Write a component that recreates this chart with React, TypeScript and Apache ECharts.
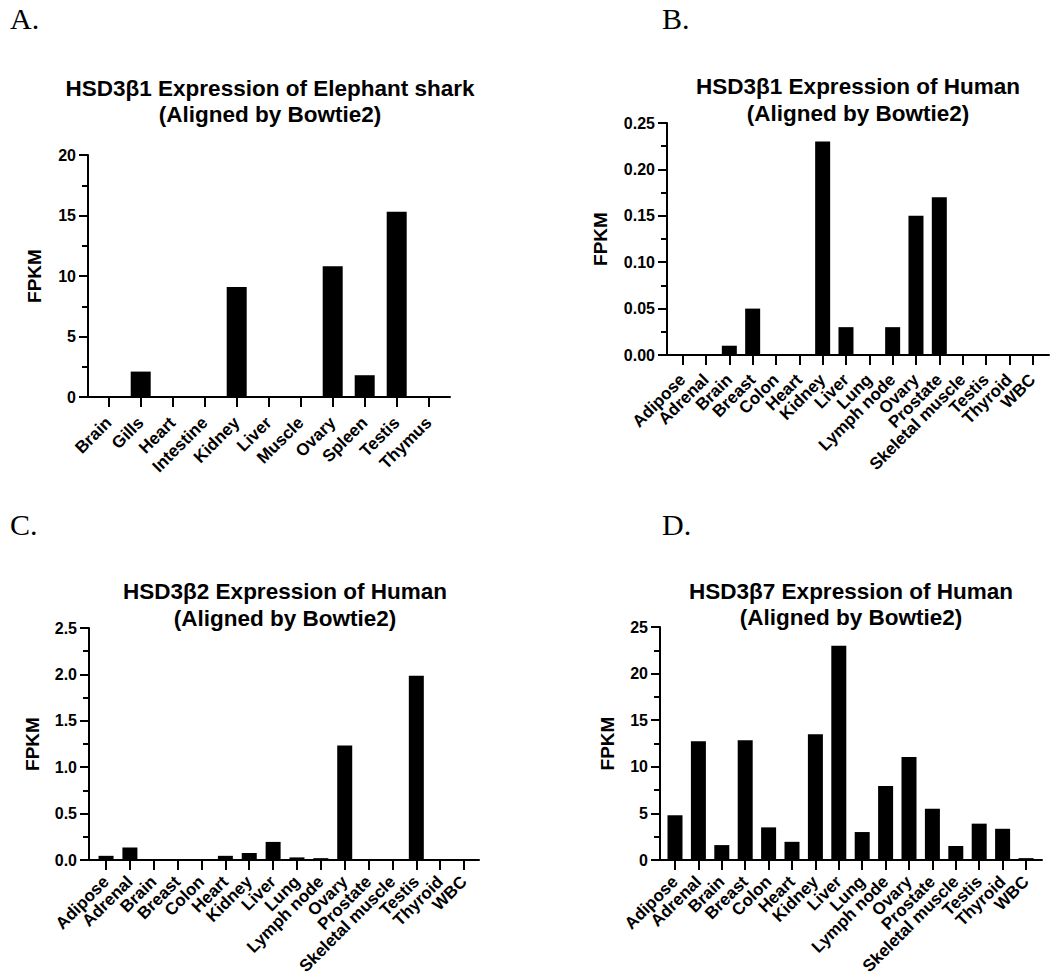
import React, { useEffect, useRef } from "react";
import * as echarts from "echarts";

const FONT = '"Liberation Sans", Arial, Helvetica, sans-serif';
const SERIF = '"Liberation Serif", "Times New Roman", serif';

// ---- data ----
const sharkTissues = ["Brain", "Gills", "Heart", "Intestine", "Kidney", "Liver", "Muscle", "Ovary", "Spleen", "Testis", "Thymus"];
const sharkHSD3B1 = [0, 2.1, 0, 0, 9.1, 0, 0, 10.8, 1.8, 15.3, 0];

const humanTissues = ["Adipose", "Adrenal", "Brain", "Breast", "Colon", "Heart", "Kidney", "Liver", "Lung", "Lymph node", "Ovary", "Prostate", "Skeletal muscle", "Testis", "Thyroid", "WBC"];
const humanHSD3B1 = [0, 0, 0.01, 0.05, 0, 0, 0.23, 0.03, 0, 0.03, 0.15, 0.17, 0, 0, 0, 0];
const humanHSD3B2 = [0.045, 0.135, 0, 0, 0, 0.045, 0.075, 0.195, 0.028, 0.02, 1.235, 0, 0, 1.985, 0, 0];
const humanHSD3B7 = [4.8, 12.75, 1.6, 12.85, 3.5, 1.95, 13.5, 23.0, 3.0, 7.95, 11.05, 5.5, 1.5, 3.9, 3.35, 0.2];

const titleA = "HSD3β1 Expression of Elephant shark\n(Aligned by Bowtie2)";
const titleB = "HSD3β1 Expression of Human\n(Aligned by Bowtie2)";
const titleC = "HSD3β2 Expression of Human\n(Aligned by Bowtie2)";
const titleD = "HSD3β7 Expression of Human\n(Aligned by Bowtie2)";
const yAxisName = "FPKM";

// ---- layout ----
const panels = [
  { cats: sharkTissues, vals: sharkHSD3B1, title: titleA, letter: "A.", lx: 10, ly: 18, tx: 270, ty: 101.5,
    fl: 88, ft: 155, fr: 450, fb: 397, dl: 92.7, dw: 352, bw: 20, yMax: 20, yInt: 5, dec: 0, gap: 44, lm: 23 },
  { cats: humanTissues, vals: humanHSD3B1, title: titleB, letter: "B.", lx: 662, ly: 18, tx: 858, ty: 100,
    fl: 667, ft: 123, fr: 1049, fb: 355, dl: 671, dw: 373.3, bw: 15, yMax: 0.25, yInt: 0.05, dec: 2, gap: 57, lm: 22 },
  { cats: humanTissues, vals: humanHSD3B2, title: titleC, letter: "C.", lx: 10, ly: 524, tx: 285, ty: 605,
    fl: 89, ft: 628, fr: 479, fb: 860, dl: 94.1, dw: 381.9, bw: 15, yMax: 2.5, yInt: 0.5, dec: 1, gap: 47, lm: 19 },
  { cats: humanTissues, vals: humanHSD3B7, title: titleD, letter: "D.", lx: 662, ly: 524, tx: 851, ty: 604.5,
    fl: 660, ft: 627, fr: 1042, fb: 860, dl: 663.3, dw: 374.4, bw: 15, yMax: 25, yInt: 5, dec: 0, gap: 43, lm: 19 },
];

function buildOption() {
  const grid: any[] = [];
  const xAxis: any[] = [];
  const yAxis: any[] = [];
  const series: any[] = [];
  const graphic: any[] = [];
  const black = "#000";

  panels.forEach((p, i) => {
    grid.push({ left: p.fl, top: p.ft, width: p.fr - p.fl, height: p.fb - p.ft, containLabel: false, outerBoundsMode: "none" });
    grid.push({ left: p.dl, top: p.ft, width: p.dw, height: p.fb - p.ft, containLabel: false, outerBoundsMode: "none" });

    xAxis.push({
      type: "value", gridIndex: 2 * i, min: 0, max: 1, position: "bottom",
      axisLine: { show: true, lineStyle: { color: black, width: 2 } },
      axisTick: { show: false }, axisLabel: { show: false }, splitLine: { show: false },
    });
    xAxis.push({
      type: "category", gridIndex: 2 * i + 1, data: p.cats, position: "bottom",
      axisLine: { show: false },
      axisTick: { show: true, alignWithLabel: true, length: 10, lineStyle: { color: black, width: 2 } },
      axisLabel: { interval: 0, rotate: 45, fontSize: 17, fontWeight: "bold", fontFamily: FONT, color: black, margin: p.lm },
      splitLine: { show: false },
    });

    yAxis.push({
      show: true,
      type: "value", gridIndex: 2 * i, min: 0, max: p.yMax, interval: p.yInt, position: "left",
      name: yAxisName, nameLocation: "middle", nameGap: p.gap, nameRotate: 90,
      nameTextStyle: { fontSize: 19, fontWeight: "bold", fontFamily: FONT, color: black },
      axisLine: { show: true, onZero: false, lineStyle: { color: black, width: 2 } },
      axisTick: { show: true, inside: false, length: 9, lineStyle: { color: black, width: 2 } },
      minorTick: { show: true, splitNumber: 2, length: 6, lineStyle: { color: black, width: 2 } },
      axisLabel: {
        fontSize: 16, fontWeight: "bold", fontFamily: FONT, color: black, margin: 12,
        formatter: (v: number) => v.toFixed(p.dec),
      },
      splitLine: { show: false }, minorSplitLine: { show: false },
    });
    yAxis.push({ type: "value", gridIndex: 2 * i + 1, min: 0, max: p.yMax, show: false, splitLine: { show: false } });

    series.push({
      type: "bar", xAxisIndex: 2 * i + 1, yAxisIndex: 2 * i + 1, data: p.vals,
      barWidth: p.bw, itemStyle: { color: black }, silent: true,
    });

    graphic.push({
      type: "text", x: p.tx, y: p.ty,
      style: {
        text: p.title, fill: black, fontSize: 22.5, fontWeight: "bold", fontFamily: FONT,
        lineHeight: 26.5, align: "center", verticalAlign: "middle",
        textAlign: "center", textVerticalAlign: "middle",
      },
    });
    graphic.push({
      type: "text", x: p.lx, y: p.ly,
      style: {
        text: p.letter, fill: black, fontSize: 30, fontFamily: SERIF,
        align: "left", verticalAlign: "middle", textAlign: "left", textVerticalAlign: "middle",
      },
    });
  });

  return { animation: false, backgroundColor: "#fff", grid, xAxis, yAxis, series, graphic };
}

export default function App() {
  const ref = useRef<HTMLDivElement>(null);
  useEffect(() => {
    if (!ref.current) return;
    const chart = echarts.init(ref.current, undefined, { renderer: "svg" });
    chart.setOption(buildOption());
    return () => chart.dispose();
  }, []);
  return <div ref={ref} style={{ position: "absolute", left: 0, top: 0, width: 1052, height: 978, background: "#fff" }} />;
}
